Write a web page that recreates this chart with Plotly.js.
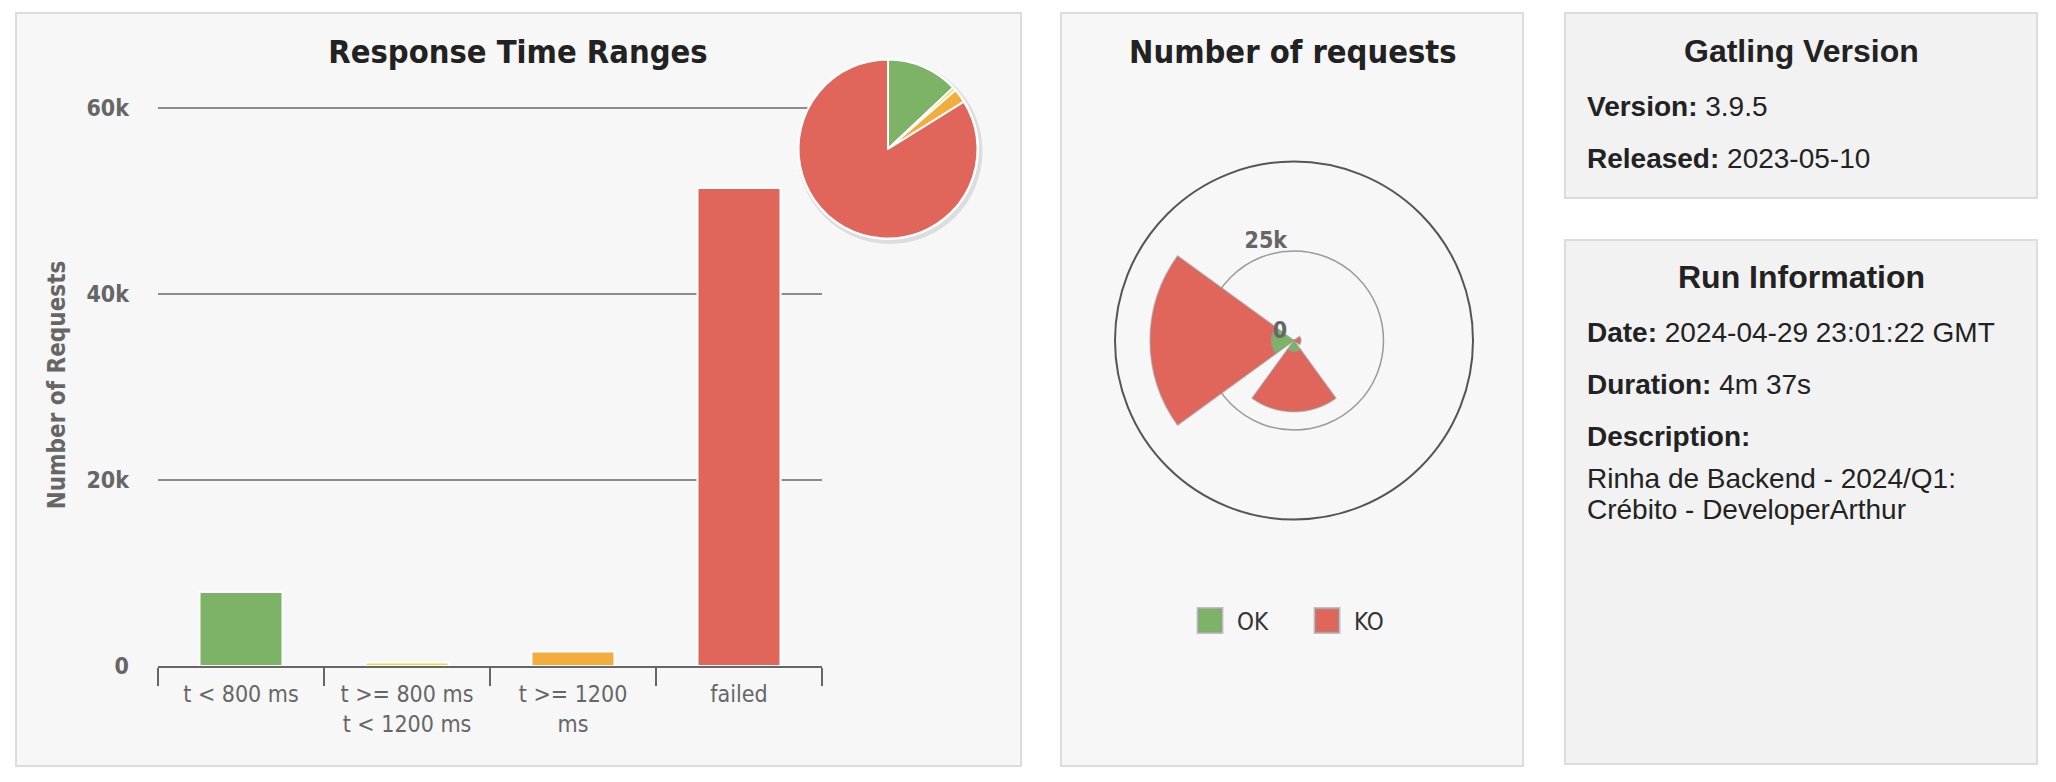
<!DOCTYPE html>
<html>
<head>
<meta charset="utf-8">
<script src="https://cdn.plot.ly/plotly-3.0.1.min.js"></script>
<style>
html,body{margin:0;padding:0;background:#ffffff;}
#chart{width:2056px;height:782px;}
</style>
</head>
<body>
<div id="chart"></div>
<script>
// ---- data ----
const rangeCategories = ['t < 800 ms', 't >= 800 ms<br>t < 1200 ms', 't >= 1200<br>ms', 'failed'];
const rangeCounts = [7950, 380, 1550, 51400];
const rangeColors = ['#7cb367', '#f9d53c', '#f2ad3e', '#e0655a'];

const requestNames = ['validações', 'extratos', 'créditos', 'débitos'];
const okCounts = [100, 300, 3100, 6300];
const koCounts = [100, 1600, 16800, 33900];
const statusNames = ['OK', 'KO'];
const statusColors = ['#7cb367', '#e0655a'];

const gatlingInfo = [['Version:', '3.9.5'], ['Released:', '2023-05-10']];
const runInfo = [['Date:', '2024-04-29 23:01:22 GMT'], ['Duration:', '4m 37s']];
const descriptionLines = ['Rinha de Backend - 2024/Q1:', 'Crébito - DeveloperArthur'];

// ---- layout helpers (pixel -> paper) ----
const W = 2056, H = 782;
const fx = p => p / W;
const fy = p => 1 - p / H;
const CF = '"DejaVu Sans Condensed", "DejaVu Sans", sans-serif';
const IF = '"Liberation Sans", Arial, sans-serif';

function panel(x0, y0, x1, y1, fill) {
  return {type: 'rect', xref: 'paper', yref: 'paper', layer: 'below',
    x0: fx(x0), x1: fx(x1), y0: fy(y1), y1: fy(y0),
    fillcolor: fill, line: {color: '#dcdcdc', width: 2}};
}
function disc(cx, cy, r, fill) {
  return {type: 'circle', xref: 'paper', yref: 'paper', layer: 'below',
    x0: fx(cx - r), x1: fx(cx + r), y0: fy(cy + r), y1: fy(cy - r),
    fillcolor: fill, line: {width: 0}};
}

// pie placement (pixels)
const pieCx = 888, pieCy = 149, pieR = 89.5;

const traces = [
  {type: 'bar', x: rangeCategories, y: rangeCounts, width: 0.5,
   marker: {color: rangeColors, line: {color: '#ffffff', width: 2}},
   showlegend: false, hoverinfo: 'none', xaxis: 'x', yaxis: 'y'},
  {type: 'pie', labels: rangeCategories, values: rangeCounts, sort: false,
   direction: 'clockwise', rotation: 0, textinfo: 'none', showlegend: false, hoverinfo: 'none',
   marker: {colors: rangeColors, line: {color: '#ffffff', width: 2}},
   domain: {x: [fx(pieCx - pieR), fx(pieCx + pieR)], y: [fy(pieCy + pieR), fy(pieCy - pieR)]}},
  {type: 'barpolar', name: statusNames[0], theta: requestNames, r: okCounts, subplot: 'polar',
   marker: {color: statusColors[0], line: {color: 'rgba(150,150,150,0.55)', width: 1.5}}, hoverinfo: 'none'},
  {type: 'barpolar', name: statusNames[1], theta: requestNames, r: koCounts, subplot: 'polar',
   marker: {color: statusColors[1], line: {color: 'rgba(150,150,150,0.55)', width: 1.5}}, hoverinfo: 'none'}
];

const annotations = [
  {text: '<b>Number of requests</b>', x: fx(1292.5), y: fy(52), xanchor: 'center', yanchor: 'middle',
   font: {family: CF, size: 32.4, color: '#222222'}},
  {text: '<b>Gatling Version</b>', x: fx(1801), y: fy(51), xanchor: 'center', yanchor: 'middle',
   font: {family: IF, size: 32, color: '#222222'}},
  {text: '<b>Run Information</b>', x: fx(1801), y: fy(277.5), xanchor: 'center', yanchor: 'middle',
   font: {family: IF, size: 32, color: '#222222'}}
];
const infoX = 1585;
const infoY = [106, 158];
gatlingInfo.forEach((r, i) => annotations.push({text: '<b>' + r[0] + '</b> ' + r[1],
  x: fx(infoX), y: fy(infoY[i]), xanchor: 'left', yanchor: 'middle', font: {family: IF, size: 28, color: '#222222'}}));
const runY = [332, 384.5];
runInfo.forEach((r, i) => annotations.push({text: '<b>' + r[0] + '</b> ' + r[1],
  x: fx(infoX), y: fy(runY[i]), xanchor: 'left', yanchor: 'middle', font: {family: IF, size: 28, color: '#222222'}}));
annotations.push({text: '<b>Description:</b>', x: fx(infoX), y: fy(436.5), xanchor: 'left', yanchor: 'middle',
  font: {family: IF, size: 28, color: '#222222'}});
const descY = [478, 509.5];
descriptionLines.forEach((t, i) => annotations.push({text: t, x: fx(infoX), y: fy(descY[i]), xanchor: 'left',
  yanchor: 'middle', font: {family: IF, size: 28, color: '#222222'}}));
annotations.forEach(a => { a.xref = 'paper'; a.yref = 'paper'; a.showarrow = false; });

// y axis: 0 at 666px, 60k at 108px; domain top extended 4px so the 60k grid line is drawn
const yTopPx = 104, yBotPx = 666, yPxAt60k = 108;
const yMax = 60000 * (yBotPx - yTopPx) / (yBotPx - yPxAt60k);

const layout = {
  width: W, height: H, margin: {l: 0, r: 0, t: 0, b: 0},
  paper_bgcolor: '#ffffff', plot_bgcolor: 'rgba(0,0,0,0)',
  title: {text: '<b>Response Time Ranges</b>', x: fx(518), xref: 'paper', xanchor: 'center',
    y: fy(52), yref: 'paper', yanchor: 'middle', font: {family: CF, size: 32.4, color: '#222222'}},
  shapes: [
    panel(16, 13, 1021, 766, '#f7f7f7'),
    panel(1061, 13, 1523, 766, '#f7f7f7'),
    panel(1565, 13, 2037, 198, '#f2f2f2'),
    panel(1565, 240, 2037, 764, '#f2f2f2'),
    disc(pieCx + 2, pieCy + 2.5, pieR + 3, 'rgba(0,0,0,0.10)'),
    disc(pieCx, pieCy, pieR + 1.5, '#ffffff')
  ],
  annotations: annotations,
  xaxis: {domain: [fx(158), fx(822)], type: 'category', range: [-0.5, 3.5],
    showline: true, linecolor: '#666666', linewidth: 2, ticks: 'outside', tickson: 'boundaries',
    ticklen: 18, tickwidth: 2, tickcolor: '#666666', showgrid: false, zeroline: false,
    ticklabelstandoff: 6,
    tickfont: {family: CF, size: 23, color: '#666666'}},
  yaxis: {domain: [fy(yBotPx), fy(yTopPx)], range: [0, yMax], tickvals: [0, 20000, 40000, 60000], tickformat: '~s',
    showgrid: true, gridcolor: '#8c8c8c', gridwidth: 1.5, zeroline: false, showline: false, ticks: '',
    ticklabelstandoff: 28, tickfont: {family: CF, size: 23, color: '#666666', weight: 'bold'},
    title: {text: 'Number of Requests', standoff: 14, font: {family: CF, size: 24, color: '#666666', weight: 'bold'}}},
  polar: {domain: {x: [fx(1115), fx(1473)], y: [fy(519.5), fy(161.5)]}, bgcolor: 'rgba(0,0,0,0)',
    bargap: 0.2, barmode: 'stack',
    radialaxis: {range: [0, 50000], tickvals: [0, 25000], tickformat: '~s', angle: 90, side: 'counterclockwise',
      showline: false, gridcolor: '#9a9a9a', gridwidth: 1.5, ticks: '', tickangle: 90,
      tickfont: {family: CF, size: 23, color: '#666666', weight: 'bold'}},
    angularaxis: {type: 'category', direction: 'clockwise', rotation: 90, showline: true,
      linecolor: '#555555', linewidth: 2, showgrid: false, showticklabels: false, ticks: ''}},
  legend: {orientation: 'h', x: fx(1300), xanchor: 'center', y: fy(621), yanchor: 'middle',
    bgcolor: 'rgba(0,0,0,0)', font: {family: CF, size: 24, color: '#333333'},
    itemwidth: 44, entrywidth: 58}
};

function nudge(el, sx, sy) {
  // shift an svg element by (sx, sy) screen pixels, whatever its parent's rotation
  const m = el.parentNode.getScreenCTM();
  if (!m) return;
  const inv = m.inverse();
  const dx = inv.a * sx + inv.c * sy, dy = inv.b * sx + inv.d * sy;
  el.setAttribute('transform', 'translate(' + dx + ',' + dy + ') ' + (el.getAttribute('transform') || ''));
}

Plotly.newPlot('chart', traces, layout, {staticPlot: true, displayModeBar: false}).then(() => {
  document.querySelectorAll('.legend .legendpoints path').forEach(p => {
    p.setAttribute('transform', (p.getAttribute('transform') || '') + ' scale(2)');
  });
  document.querySelectorAll('.polarlayer .radial-axis text').forEach(t => nudge(t, -3, -10));
});
</script>
</body>
</html>
